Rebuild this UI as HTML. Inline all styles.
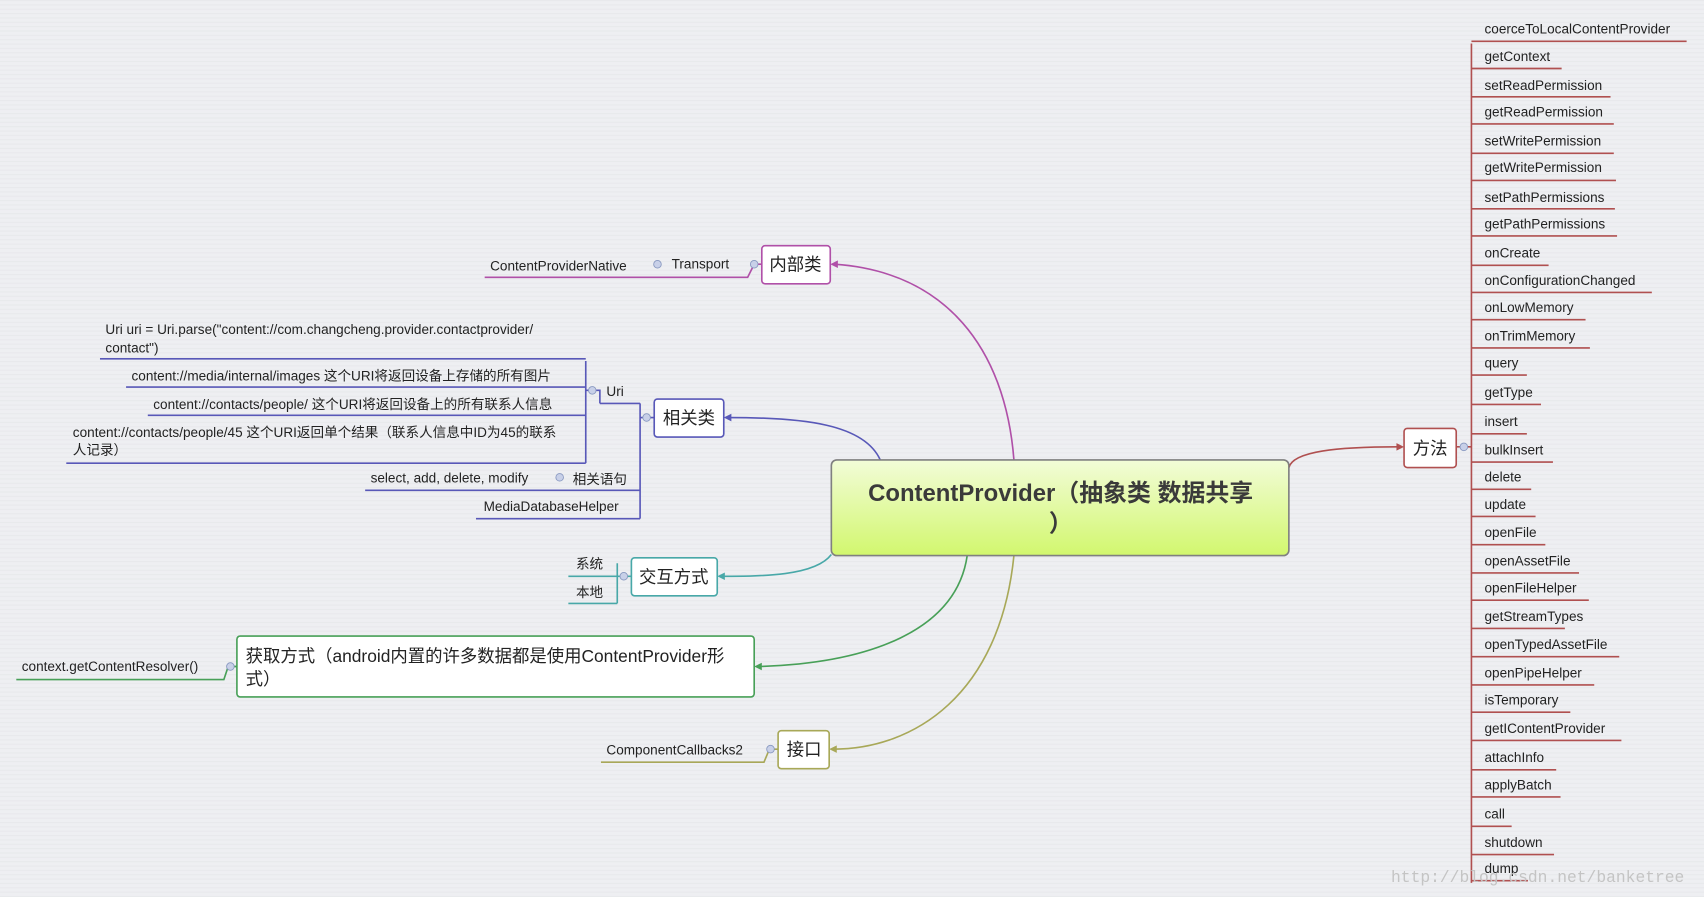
<!DOCTYPE html>
<html><head><meta charset="utf-8"><style>
html,body{margin:0;padding:0;background:#eeeff2;}
svg{display:block;}
text{font-family:"Liberation Sans","Noto Sans CJK SC",sans-serif;font-size:12.5px;fill:#222;}
.n{font-size:16px;}
</style></head><body>
<svg width="1704" height="897" viewBox="0 0 1568 825" preserveAspectRatio="none" xmlns="http://www.w3.org/2000/svg">
<defs>
<linearGradient id="g" x1="0" y1="0" x2="0" y2="1"><stop offset="0" stop-color="#f2fcd8"/><stop offset="1" stop-color="#d2f76e"/></linearGradient>
<pattern id="st" width="4" height="4" patternUnits="userSpaceOnUse"><rect width="4" height="4" fill="#eeeff2"/><rect width="4" height="1" fill="#e8e9ec"/></pattern>
</defs>
<rect width="1568" height="825" fill="url(#st)"/>
<g fill="none" stroke-width="1.5">
<path d="M933 423 C925 320 870 250 768 243" stroke="#b050a8"/>
<path d="M810 423 C795 390 740 384 670 384" stroke="#5858b8"/>
<path d="M765 510 C750 530 700 530 664 530" stroke="#48a8a8"/>
<path d="M890 511 C880 580 800 610 698 613" stroke="#48a058"/>
<path d="M933 511 C920 640 840 689 767 689" stroke="#a8a858"/>
<path d="M1186 430 C1190 415 1230 411 1288 411" stroke="#b05050"/>
<polyline points="446,255 688,255 694,243 701,243" stroke="#b050a8"/>
<path d="M602 384 L589 384 M589 371 L589 477 M552 371 L589 371 M336 451 L589 451 M438 477 L589 477" stroke="#5858b8"/>
<path d="M539 332 L539 426 M92 330 L539 330 M116 356 L539 356 M136 382 L539 382 M61 426 L539 426 M539 359 L552 359 L552 371" stroke="#5858b8"/>
<path d="M581 530 L568 530 M568 518 L568 555 M523 530 L568 530 M523 555 L568 555" stroke="#48a8a8"/>
<polyline points="15,625 206,625 210,613 218,613" stroke="#48a058"/>
<polyline points="553,701 703,701 708,689 716,689" stroke="#a8a858"/>
<path d="M1292 411 L1354 411 M1354 40 L1354 812" stroke="#b05050"/>
</g>
<!-- arrowheads -->
<polygon points="764,243 771,239.5 771,246.5" fill="#b050a8"/>
<polygon points="666,384 673,380.5 673,387.5" fill="#5858b8"/>
<polygon points="660,530 667,526.5 667,533.5" fill="#48a8a8"/>
<polygon points="694,613 701,609.5 701,616.5" fill="#48a058"/>
<polygon points="763,689 770,685.5 770,692.5" fill="#a8a858"/>
<polygon points="1292,411 1285,407.5 1285,414.5" fill="#b05050"/>
<g stroke="#b05050" stroke-width="1.5" fill="none">
<path d="M1354 38 H1552"/><path d="M1354 63 H1437"/><path d="M1354 89 H1482"/><path d="M1354 114 H1485"/>
<path d="M1354 141 H1485"/><path d="M1354 166 H1487"/><path d="M1354 192 H1486"/><path d="M1354 217 H1488"/>
<path d="M1354 244 H1425"/><path d="M1354 269 H1520"/><path d="M1354 294 H1459"/><path d="M1354 320 H1463"/>
<path d="M1354 345 H1405"/><path d="M1354 372 H1418"/><path d="M1354 399 H1405"/><path d="M1354 425 H1429"/>
<path d="M1354 450 H1409"/><path d="M1354 475 H1413"/><path d="M1354 501 H1422"/><path d="M1354 527 H1453"/>
<path d="M1354 552 H1462"/><path d="M1354 578 H1440"/><path d="M1354 604 H1490"/><path d="M1354 630 H1467"/>
<path d="M1354 655 H1445"/><path d="M1354 681 H1492"/><path d="M1354 708 H1432"/><path d="M1354 733 H1436"/>
<path d="M1354 760 H1391"/><path d="M1354 786 H1430"/><path d="M1354 810 H1406"/>
</g>
<g>
<text x="1366" y="31">coerceToLocalContentProvider</text><text x="1366" y="56">getContext</text>
<text x="1366" y="83">setReadPermission</text><text x="1366" y="107">getReadPermission</text>
<text x="1366" y="134">setWritePermission</text><text x="1366" y="158">getWritePermission</text>
<text x="1366" y="186">setPathPermissions</text><text x="1366" y="210">getPathPermissions</text>
<text x="1366" y="237">onCreate</text><text x="1366" y="262">onConfigurationChanged</text>
<text x="1366" y="287">onLowMemory</text><text x="1366" y="313">onTrimMemory</text>
<text x="1366" y="338">query</text><text x="1366" y="365">getType</text>
<text x="1366" y="392">insert</text><text x="1366" y="418">bulkInsert</text>
<text x="1366" y="443">delete</text><text x="1366" y="468">update</text>
<text x="1366" y="494">openFile</text><text x="1366" y="520">openAssetFile</text>
<text x="1366" y="545">openFileHelper</text><text x="1366" y="571">getStreamTypes</text>
<text x="1366" y="597">openTypedAssetFile</text><text x="1366" y="623">openPipeHelper</text>
<text x="1366" y="648">isTemporary</text><text x="1366" y="674">getIContentProvider</text>
<text x="1366" y="701">attachInfo</text><text x="1366" y="726">applyBatch</text>
<text x="1366" y="753">call</text><text x="1366" y="779">shutdown</text><text x="1366" y="803">dump</text>
</g>
<rect x="765" y="423" width="421" height="88" rx="5" fill="url(#g)" stroke="#808080" stroke-width="1.5"/>
<text x="976" y="461" text-anchor="middle" style="font-size:22px;font-weight:bold;fill:#3a3a3a">ContentProvider（抽象类 数据共享</text>
<text x="976" y="489" text-anchor="middle" style="font-size:22px;font-weight:bold;fill:#3a3a3a">）</text>
<rect x="1292" y="394" width="48" height="36" rx="3" fill="#fff" stroke="#b05050" stroke-width="1.5"/><text class="n" x="1316" y="418" text-anchor="middle">方法</text>
<rect x="701" y="226" width="63" height="35" rx="3" fill="#fff" stroke="#b050a8" stroke-width="1.5"/><text class="n" x="732" y="249" text-anchor="middle">内部类</text>
<rect x="602" y="367" width="64" height="35" rx="3" fill="#fff" stroke="#5858b8" stroke-width="1.5"/><text class="n" x="634" y="390" text-anchor="middle">相关类</text>
<rect x="581" y="513" width="79" height="35" rx="3" fill="#fff" stroke="#48a8a8" stroke-width="1.5"/><text class="n" x="620" y="536" text-anchor="middle">交互方式</text>
<rect x="218" y="585" width="476" height="56" rx="3" fill="#fff" stroke="#48a058" stroke-width="1.5"/>
<text class="n" x="226" y="609">获取方式（android内置的许多数据都是使用ContentProvider形</text><text class="n" x="226" y="630">式）</text>
<rect x="716" y="672" width="47" height="35" rx="3" fill="#fff" stroke="#a8a858" stroke-width="1.5"/><text class="n" x="740" y="695" text-anchor="middle">接口</text>
<text x="451" y="249">ContentProviderNative</text><text x="618" y="247">Transport</text>
<text x="97" y="307">Uri uri = Uri.parse("content://com.changcheng.provider.contactprovider/</text>
<text x="97" y="324">contact")</text>
<text x="121" y="350">content://media/internal/images  这个URI将返回设备上存储的所有图片</text>
<text x="141" y="376">content://contacts/people/  这个URI将返回设备上的所有联系人信息</text>
<text x="67" y="402">content://contacts/people/45 这个URI返回单个结果（联系人信息中ID为45的联系</text>
<text x="67" y="418">人记录）</text>
<text x="558" y="364">Uri</text>
<text x="341" y="444">select, add, delete, modify</text><text x="527" y="445">相关语句</text>
<text x="445" y="470">MediaDatabaseHelper</text>
<text x="530" y="523">系统</text><text x="530" y="549">本地</text>
<text x="20" y="617">context.getContentResolver()</text>
<text x="558" y="694">ComponentCallbacks2</text>
<g fill="#c8d0e8" stroke="#8898c0" stroke-width="0.8">
<circle cx="694" cy="243" r="3.5"/><circle cx="605" cy="243" r="3.5"/><circle cx="595" cy="384" r="3.5"/><circle cx="545" cy="359" r="3.5"/><circle cx="515" cy="439" r="3.5"/><circle cx="574" cy="530" r="3.5"/><circle cx="212" cy="613" r="3.5"/><circle cx="709" cy="689" r="3.5"/><circle cx="1347" cy="411" r="3.5"/>
</g>
<text x="1280" y="811" style="font-family:'Liberation Mono',monospace;font-size:15px;fill:#c4c4c4">http://blog.csdn.net/banketree</text>
</svg>
</body></html>
